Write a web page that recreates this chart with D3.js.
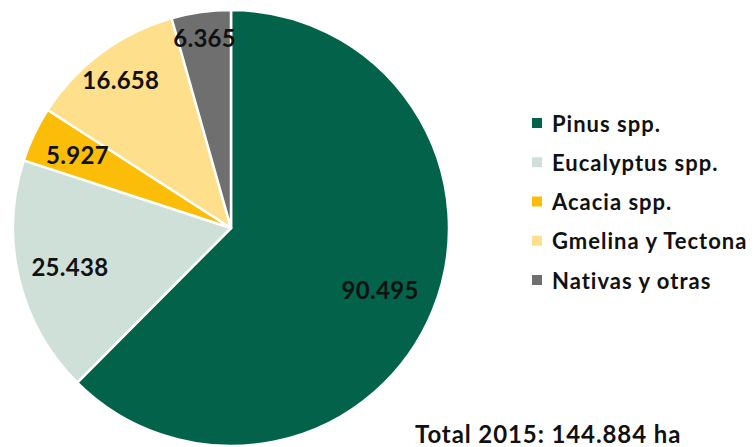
<!DOCTYPE html>
<html><head><meta charset="utf-8">
<script src="https://cdn.jsdelivr.net/npm/d3@7"></script>
<style>body{margin:0;background:#fff}svg{display:block}</style>
</head><body>
<svg id="c" width="754" height="447"></svg>
<script>
const categories = ["Pinus spp.", "Eucalyptus spp.", "Acacia spp.", "Gmelina y Tectona", "Nativas y otras"];
const values = [90.495, 25.438, 5.927, 16.658, 6.365];
const valueLabels = ["90.495", "25.438", "5.927", "16.658", "6.365"];
const colors = ["#02634a", "#cfe0d9", "#fbbd07", "#fedf8b", "#6f6f6f"];
const totalLabel = "Total 2015: 144.884 ha";

const svg = d3.select("#c");
const font = "Lato, 'Open Sans', sans-serif";
const cx = 231, cy = 228, R = 218;

const pie = d3.pie().sort(null).value(d => d)(values);
const arc = d3.arc().innerRadius(0).outerRadius(R);
const g = svg.append("g").attr("transform", `translate(${cx},${cy})`);
g.selectAll("path").data(pie).join("path")
  .attr("d", arc)
  .attr("fill", (d, i) => colors[i])
  .attr("stroke", "#fff").attr("stroke-width", 2.5).attr("stroke-linejoin", "round");

// label radii (fraction of R) per slice
const labelR = [0.74, 0.76, 0.78, 0.85, 0.88];
g.selectAll("text.v").data(pie).join("text")
  .attr("class", "v")
  .attr("transform", (d, i) => {
    const a = (d.startAngle + d.endAngle) / 2;
    const r = R * labelR[i];
    return `translate(${Math.sin(a) * r},${-Math.cos(a) * r})`;
  })
  .attr("text-anchor", "middle").attr("dominant-baseline", "central")
  .attr("font-family", font).attr("font-weight", 700).attr("font-size", 24)
  .attr("letter-spacing", 0.3)
  .attr("fill", "#111")
  .text((d, i) => valueLabels[i]);

const lg = svg.append("g").attr("transform", "translate(532,0)");
const rowY = d3.scalePoint().domain(categories).range([123, 280]);
categories.forEach((c, i) => {
  const y = rowY(c);
  lg.append("rect").attr("x", 0).attr("y", y - 5).attr("width", 10).attr("height", 10).attr("fill", colors[i]);
  lg.append("text").attr("x", 20).attr("y", y).attr("dominant-baseline", "central")
    .attr("font-family", font).attr("font-weight", 700).attr("font-size", 22)
    .attr("letter-spacing", 1).attr("fill", "#111").text(c);
});

svg.append("text").attr("x", 415).attr("y", 443)
  .attr("font-family", font).attr("font-weight", 700).attr("font-size", 24)
  .attr("letter-spacing", 0.9).attr("fill", "#111")
  .text(totalLabel);
</script>
</body></html>
